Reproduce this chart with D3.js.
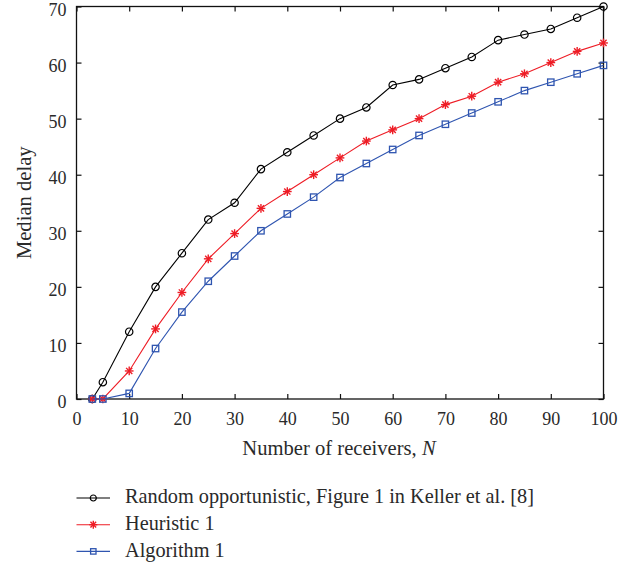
<!DOCTYPE html>
<html>
<head>
<meta charset="utf-8">
<script src="https://cdn.jsdelivr.net/npm/d3@7"></script>
<style>
  html, body { margin: 0; padding: 0; background: #fff; }
  svg { display: block; }
</style>
</head>
<body>
<svg id="chart" width="638" height="567"></svg>
<script>
// Number of receivers N
const receivers = [3, 5, 10, 15, 20, 25, 30, 35, 40, 45, 50, 55, 60, 65, 70, 75, 80, 85, 90, 95, 100];
// Median delay per method
const randomOpportunistic = [0, 3, 12, 20, 26, 32, 35, 41, 44, 47, 50, 52, 56, 57, 59, 61, 64, 65, 66, 68, 70];
const heuristic1 = [0, 0, 5, 12.5, 19, 25, 29.5, 34, 37, 40, 43, 46, 48, 50, 52.5, 54, 56.5, 58, 60, 62, 63.5];
const algorithm1 = [0, 0, 1, 9, 15.5, 21, 25.5, 30, 33, 36, 39.5, 42, 44.5, 47, 49, 51, 53, 55, 56.5, 58, 59.5];
const xTicks = [0, 10, 20, 30, 40, 50, 60, 70, 80, 90, 100];
const yTicks = [0, 10, 20, 30, 40, 50, 60, 70];
const seriesNames = ["Random opportunistic, Figure 1 in Keller et al. [8]", "Heuristic 1", "Algorithm 1"];

const series = [
  { name: seriesNames[0], values: randomOpportunistic, color: "#000000", marker: "circle" },
  { name: seriesNames[1], values: heuristic1, color: "#ee1c25", marker: "star" },
  { name: seriesNames[2], values: algorithm1, color: "#2f55b0", marker: "square" }
];

const FONT = '"Liberation Serif", "Times New Roman", serif';
const TEXT_COLOR = "#2a2a2a";

const svg = d3.select("#chart");
const plotLeft = 76.5, plotRight = 603.5, plotTop = 6.5, plotBottom = 399;

const x = d3.scaleLinear().domain([0, 100]).range([plotLeft, plotRight]);
const y = d3.scaleLinear().domain([0, 70]).range([plotBottom, plotTop]);

function styleTicks(g) {
  g.select(".domain").remove();
  g.selectAll("text")
    .style("font-family", FONT).style("font-size", "18px").style("fill", TEXT_COLOR);
}

// Frame with inward ticks on all four sides
const tickLen = 5;
svg.append("g").attr("transform", `translate(0,${plotBottom})`)
  .call(d3.axisBottom(x).tickValues(xTicks).tickSizeInner(-tickLen).tickSizeOuter(0).tickPadding(13).tickFormat(d3.format("d")))
  .call(styleTicks);
svg.append("g").attr("transform", `translate(0,${plotTop})`)
  .call(d3.axisTop(x).tickValues(xTicks).tickSizeInner(-tickLen).tickSizeOuter(0).tickFormat(""))
  .call(g => g.select(".domain").remove());
svg.append("g").attr("transform", `translate(${plotLeft},0)`)
  .call(d3.axisLeft(y).tickValues(yTicks).tickSizeInner(-tickLen).tickSizeOuter(0).tickPadding(10).tickFormat(d3.format("d")))
  .call(styleTicks)
  .call(g => g.selectAll("text").attr("dy", "0.48em"));
svg.append("g").attr("transform", `translate(${plotRight},0)`)
  .call(d3.axisRight(y).tickValues(yTicks).tickSizeInner(-tickLen).tickSizeOuter(0).tickFormat(""))
  .call(g => g.select(".domain").remove());
svg.selectAll(".tick line").attr("stroke", "#111").attr("stroke-width", 1.2);

svg.append("rect")
  .attr("x", plotLeft).attr("y", plotTop)
  .attr("width", plotRight - plotLeft).attr("height", plotBottom - plotTop)
  .attr("fill", "none").attr("stroke", "#111").attr("stroke-width", 1.3);

// Marker drawing
function drawMarker(g, type, color, size) {
  if (type === "circle") {
    g.append("circle").attr("r", size).attr("fill", "none").attr("stroke", color).attr("stroke-width", 1.2);
  } else if (type === "square") {
    g.append("rect").attr("x", -size).attr("y", -size).attr("width", 2 * size).attr("height", 2 * size)
      .attr("fill", "none").attr("stroke", color).attr("stroke-width", 1.3);
  } else {
    const r = size * 1.15;
    [0, 45, 90, 135].forEach(a => {
      const rad = a * Math.PI / 180;
      g.append("line")
        .attr("x1", -r * Math.cos(rad)).attr("y1", -r * Math.sin(rad))
        .attr("x2", r * Math.cos(rad)).attr("y2", r * Math.sin(rad))
        .attr("stroke", color).attr("stroke-width", 1.4);
    });
  }
}

const line = d3.line().x((d, i) => x(receivers[i])).y(d => y(d));

series.forEach(s => {
  svg.append("path").datum(s.values)
    .attr("d", line)
    .attr("fill", "none").attr("stroke", s.color).attr("stroke-width", 1.1);
  s.values.forEach((v, i) => {
    const g = svg.append("g").attr("transform", `translate(${x(receivers[i])},${y(v)})`);
    drawMarker(g, s.marker, s.color, s.marker === "star" ? 3.8 : (s.marker === "circle" ? 3.7 : 3.2));
  });
});

// Axis titles
const xTitle = svg.append("text")
  .attr("x", 339).attr("y", 455)
  .attr("text-anchor", "middle")
  .style("font-family", FONT).style("font-size", "20.6px").style("fill", TEXT_COLOR);
xTitle.append("tspan").text("Number of receivers, ");
xTitle.append("tspan").style("font-style", "italic").text("N");

svg.append("text")
  .attr("transform", `translate(31,${(plotTop + plotBottom) / 2}) rotate(-90)`)
  .attr("text-anchor", "middle")
  .style("font-family", FONT).style("font-size", "20.6px").style("fill", TEXT_COLOR)
  .text("Median delay");

// Legend
const legend = svg.append("g");
series.forEach((s, i) => {
  const ly = 498 + i * 26.7;
  legend.append("line").attr("x1", 76.5).attr("x2", 110).attr("y1", ly).attr("y2", ly)
    .attr("stroke", s.color).attr("stroke-width", 1.1);
  const g = legend.append("g").attr("transform", `translate(93.3,${ly})`);
  drawMarker(g, s.marker, s.color, s.marker === "star" ? 3.5 : (s.marker === "circle" ? 3 : 2.7));
  legend.append("text").attr("x", 125).attr("y", ly).attr("dy", "0.27em")
    .style("font-family", FONT).style("font-size", "20.3px").style("fill", TEXT_COLOR)
    .text(s.name);
});
</script>
</body>
</html>
